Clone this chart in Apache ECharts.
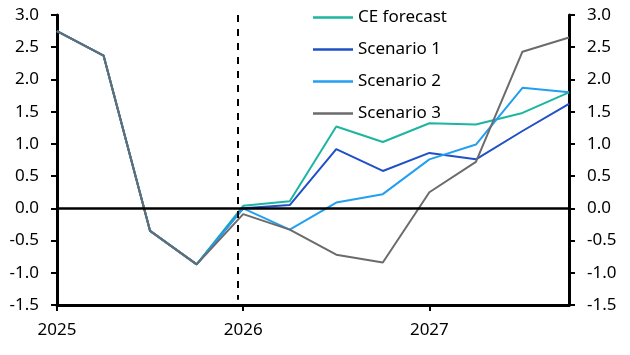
<!DOCTYPE html>
<html>
<head>
<meta charset="utf-8">
<script src="https://cdn.jsdelivr.net/npm/echarts@6/dist/echarts.min.js"></script>
<style>html,body{margin:0;padding:0;background:#fff;}#c{width:630px;height:355px;}</style>
</head>
<body>
<div id="c"></div>
<script>
var quarters = ['2025Q1','2025Q2','2025Q3','2025Q4','2026Q1','2026Q2','2026Q3','2026Q4','2027Q1','2027Q2','2027Q3','2027Q4'];
var yearLabels = {0:'2025', 4:'2026', 8:'2027'};
var ceForecast = [2.75, 2.37, -0.35, -0.87, 0.04, 0.11, 1.27, 1.03, 1.32, 1.30, 1.48, 1.80];
var scenario1  = [2.75, 2.37, -0.35, -0.87, 0.00, 0.05, 0.92, 0.58, 0.86, 0.76, 1.20, 1.62];
var scenario2  = [2.75, 2.37, -0.35, -0.87, 0.00, -0.33, 0.09, 0.22, 0.76, 0.99, 1.87, 1.80];
var scenario3  = [2.75, 2.37, -0.35, -0.87, -0.09, -0.33, -0.72, -0.84, 0.25, 0.72, 2.43, 2.65];
var forecastStart = 3.88;

function pairs(arr){ return arr.map(function(v,i){ return [i, v]; }); }
var FONT = 'Noto Sans';
var chart = echarts.init(document.getElementById('c'), null, {renderer:'canvas'});
function yAx(pos){
  return {
    type:'value', position:pos, min:-1.5, max:3, interval:0.5,
    axisLine:{show:true, lineStyle:{color:'#000', width:3}},
    axisTick:{show:true, inside:false, length:6, lineStyle:{color:'#000', width:2}},
    axisLabel:{color:'#000', fontFamily:FONT, fontSize:17, margin:18, formatter:function(v){return v.toFixed(1);}},
    splitLine:{show:false}
  };
}
var lineStyleFor = function(c){ return {color:c, width:2}; };
var lineIcon = 'path://M0,0 L40,0 L40,2.5 L0,2.5 Z';
chart.setOption({
  animation:false,
  grid:{left:57, right:61, top:15, bottom:50, containLabel:false},
  legend:{
    orient:'vertical', left:308, top:4, itemWidth:40, itemHeight:2.5, itemGap:15,
    icon:lineIcon,
    textStyle:{color:'#000', fontFamily:FONT, fontSize:17, lineHeight:17},
    data:['CE forecast','Scenario 1','Scenario 2','Scenario 3']
  },
  xAxis:{
    type:'value', min:0, max:11, interval:4,
    axisLine:{show:true, onZero:false, lineStyle:{color:'#000', width:3}},
    axisTick:{show:true, length:6, lineStyle:{color:'#000', width:2}, customValues:[0,4,8]},
    axisLabel:{color:'#000', fontFamily:FONT, fontSize:17, margin:17, customValues:[0,4,8],
      formatter:function(v){ return yearLabels[v] || ''; }},
    splitLine:{show:false}
  },
  yAxis:[yAx('left'), yAx('right')],
  series:[
    {name:'CE forecast', type:'line', data:pairs(ceForecast), symbol:'none', lineStyle:lineStyleFor('#1DB5A0'), itemStyle:{color:'#1DB5A0'},
      markLine:{silent:true, symbol:'none', label:{show:false},
        data:[
          {yAxis:0, lineStyle:{color:'#000', width:2.7, type:'solid'}},
          [{coord:[forecastStart, 3.0]}, {coord:[forecastStart, -1.42]}]
        ],
        lineStyle:{color:'#000', width:2, type:[7,7]}
      }},
    {name:'Scenario 1', type:'line', data:pairs(scenario1), symbol:'none', lineStyle:lineStyleFor('#1F50C8'), itemStyle:{color:'#1F50C8'}},
    {name:'Scenario 2', type:'line', data:pairs(scenario2), symbol:'none', lineStyle:lineStyleFor('#239FF2'), itemStyle:{color:'#239FF2'}},
    {name:'Scenario 3', type:'line', data:pairs(scenario3), symbol:'none', lineStyle:lineStyleFor('#6B6B6B'), itemStyle:{color:'#6B6B6B'}}
  ]
});
</script>
</body>
</html>
